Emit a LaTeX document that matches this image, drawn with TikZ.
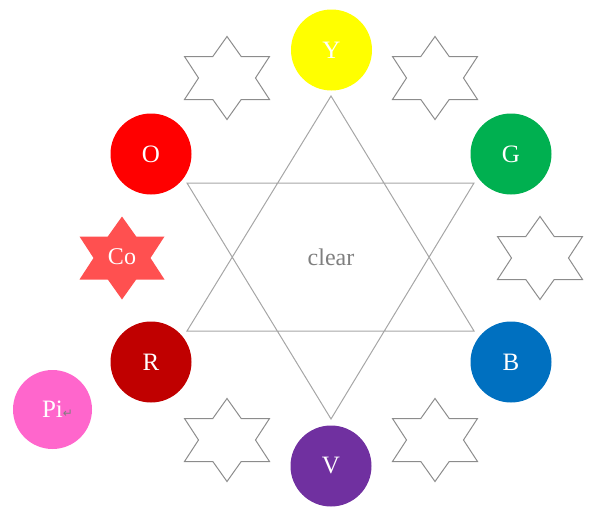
\documentclass[tikz,border=0pt]{standalone}
\usepackage{fontspec}
\setmainfont{Liberation Serif}
\newfontfamily\markfont{DejaVu Sans}
\definecolor{ycol}{HTML}{FFFF00}
\definecolor{gcol}{HTML}{00B050}
\definecolor{bcol}{HTML}{0070C0}
\definecolor{vcol}{HTML}{7030A0}
\definecolor{rcol}{HTML}{C00000}
\definecolor{ocol}{HTML}{FF0000}
\definecolor{cocol}{HTML}{FF5050}
\definecolor{picol}{HTML}{FF66CC}
\definecolor{linegray}{HTML}{A6A6A6}
\definecolor{stargray}{HTML}{8C8C8C}
\definecolor{textgray}{HTML}{7F7F7F}
\begin{document}
\begin{tikzpicture}[x=1pt,y=-1pt,line join=miter]
		\tikzset{hue/.style={circle,minimum size=81pt,inner sep=0pt,text=white,
				font=\fontsize{25}{29}\selectfont},
			starline/.style={draw=stargray,line width=1pt},
			bigline/.style={draw=linegray,line width=1pt},
			hexstar/.pic={
				\path[pic actions] (0,-41.5)--(14.2,-21.5)--(42.5,-21.5)--(28.5,0)
				--(42.5,21.5)--(14.2,21.5)--(0,41.5)--(-14.2,21.5)--(-42.5,21.5)
				--(-28.5,0)--(-42.5,-21.5)--(-14.2,-21.5)--cycle;}
		}
		\useasboundingbox (0,0) rectangle (598,525);
		% the big star in the middle
		\draw[bigline] (331,96)--(474,331)--(187,331)--cycle
		(187,183)--(474,183)--(331,419)--cycle;
		\node[text=textgray,font=\fontsize{24}{28}\selectfont] (clear) at (331,257) {clear};
		% colour wheel
		\node[hue,fill=ycol] (Y) at (331.5,50) {Y};
		\node[hue,fill=gcol] (G) at (511,154) {G};
		\node[hue,fill=bcol] (B) at (511,362) {B};
		\node[hue,fill=vcol] (V) at (331,466) {V};
		\node[hue,fill=rcol] (R) at (151,362) {R};
		\node[hue,fill=ocol] (O) at (151,154) {O};
		\node[hue,fill=picol,minimum size=79pt] (Pi) at (52.5,409.5)
		{Pi\rlap{\markfont\fontsize{12}{12}\selectfont\color{gray}↵}};
		% stars in between
		\pic[starline] at (227,78) {hexstar};
		\pic[starline] at (435,78) {hexstar};
		\pic[starline] at (540,258) {hexstar};
		\pic[starline] at (435,440) {hexstar};
		\pic[starline] at (227,440) {hexstar};
		\pic[fill=cocol] at (122,258) {hexstar};
		\node[text=white,font=\fontsize{24}{28}\selectfont] (Co) at (122,257) {Co};
	\end{tikzpicture}
\end{document}
